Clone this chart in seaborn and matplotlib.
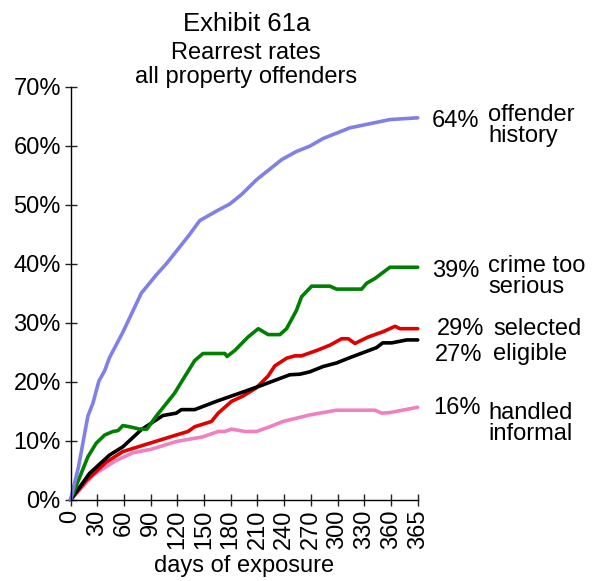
import pandas as pd
import matplotlib.pyplot as plt
import seaborn as sns

# tick labels on the x axis (evenly spaced, last one is 365)
day_labels = ['0', '30', '60', '90', '120', '150', '180', '210', '240',
              '270', '300', '330', '360', '365']

# curves: x in tick positions (0..13), y in percent
history_x = [0, 0.3, 0.65, 0.84, 1.06, 1.28, 1.46, 1.96, 2.65, 3.21, 3.59, 4.4,
             4.84, 5.46, 5.96, 6.4, 6.96, 7.9, 8.46, 8.96, 9.46, 10.46, 11.96, 13]
history_y = [0, 5.6, 14.2, 16.4, 20.1, 21.9, 24.1, 28.4, 35.0, 38.1, 40.0, 44.6,
             47.3, 48.9, 50.1, 51.7, 54.2, 57.6, 59.0, 59.9, 61.2, 63.0, 64.4, 64.7]

serious_x = [0, 0.65, 0.96, 1.28, 1.59, 1.78, 1.96, 2.21, 2.59, 2.86, 3.21, 3.9,
             4.21, 4.65, 4.96, 5.78, 5.86, 6.15, 6.65, 7.03, 7.4, 7.84, 8.09, 8.46,
             8.65, 9.03, 9.71, 9.96, 10.9, 11.09, 11.4, 11.96, 13]
serious_y = [0, 7.3, 9.6, 11.0, 11.6, 11.75, 12.6, 12.4, 12.0, 12.0, 14.2, 18.1,
             20.4, 23.6, 24.8, 24.8, 24.3, 25.3, 27.6, 29.0, 28.0, 28.0, 29.0, 32.1,
             34.4, 36.2, 36.2, 35.7, 35.7, 36.7, 37.5, 39.4, 39.4]

selected_x = [0, 0.59, 1.34, 1.96, 2.96, 3.96, 4.4, 4.65, 5.28, 5.53, 6.03, 6.46,
              6.96, 7.4, 7.65, 8.09, 8.4, 8.65, 9.21, 9.71, 10.15, 10.4, 10.65,
              11.15, 11.71, 12.15, 12.34, 13]
selected_y = [0, 3.3, 6.4, 8.2, 9.6, 11.0, 11.6, 12.4, 13.3, 14.7, 16.7, 17.6,
              19.0, 21.0, 22.7, 24.0, 24.4, 24.4, 25.3, 26.2, 27.3, 27.3, 26.5,
              27.6, 28.5, 29.4, 29.0, 29.0]

eligible_x = [0, 0.71, 1.46, 1.96, 2.65, 3.46, 3.96, 4.15, 4.65, 5.46, 6.53, 7.09,
              8.21, 8.59, 8.96, 9.46, 9.96, 10.46, 11.46, 11.69, 12.03, 12.59, 13]
eligible_y = [0, 4.5, 7.6, 9.0, 11.9, 14.3, 14.7, 15.3, 15.3, 16.7, 18.4, 19.3,
              21.2, 21.3, 21.7, 22.6, 23.2, 24.1, 25.8, 26.6, 26.6, 27.1, 27.1]

informal_x = [0, 0.84, 1.71, 2.34, 3.03, 3.96, 4.96, 5.53, 5.78, 6.03, 6.53, 6.96,
              7.46, 7.96, 8.96, 9.96, 11.4, 11.65, 11.96, 13]
informal_y = [0, 4.2, 6.7, 8.0, 8.6, 9.9, 10.7, 11.6, 11.6, 12.0, 11.6, 11.6,
              12.4, 13.3, 14.4, 15.2, 15.2, 14.7, 14.8, 15.7]

groups = ['handled informal', 'selected', 'eligible', 'crime too serious', 'offender history']
colors = ['#f080c0', '#e00000', '#000000', '#008000', '#8080e6']

frames = []
for name, xs, ys in [('handled informal', informal_x, informal_y),
                     ('selected', selected_x, selected_y),
                     ('eligible', eligible_x, eligible_y),
                     ('crime too serious', serious_x, serious_y),
                     ('offender history', history_x, history_y)]:
    frames.append(pd.DataFrame({'pos': xs, 'rate': ys, 'group': name}))
data = pd.concat(frames, ignore_index=True)

sns.set_style('ticks')
plt.rcParams['font.family'] = ['Liberation Sans', 'DejaVu Sans']
plt.rcParams['text.color'] = 'black'
plt.rcParams['xtick.color'] = 'black'
plt.rcParams['ytick.color'] = 'black'
plt.rcParams['axes.labelcolor'] = 'black'

fig = plt.figure(figsize=(6, 5.81), dpi=100)
W, H = 600, 581
ax = fig.add_axes([70.5 / W, 1 - 500 / H, (417.7 - 70.5) / W, (500 - 86.5) / H])

sns.lineplot(data=data, x='pos', y='rate', hue='group', hue_order=groups,
             palette=colors, estimator=None, sort=False, linewidth=2.6,
             legend=False, ax=ax, clip_on=False)

ax.set_xlim(0, 13)
ax.set_ylim(0, 70)
ax.set_xticks(range(len(day_labels)))
ax.set_xticklabels(day_labels, rotation=90, fontsize=17)
ax.set_yticks(range(0, 71, 10))
ax.set_yticklabels([f'{v}%' for v in range(0, 71, 10)], fontsize=17)
ax.tick_params(direction='inout', length=8, width=1, color='#222222', pad=3)
ax.set_xlabel('days of exposure', fontsize=17, labelpad=4)
ax.set_ylabel('')
for s in ['top', 'right']:
    ax.spines[s].set_visible(False)
for s in ['left', 'bottom']:
    ax.spines[s].set_linewidth(1)
    ax.spines[s].set_color('black')

def ftext(x, y, s, size=17, **kw):
    fig.text(x / W, 1 - y / H, s, fontsize=size, va='baseline', **kw)

# title block
ftext(247, 31, 'Exhibit 61a', size=18.5, ha='center')
ftext(246, 59, 'Rearrest rates', ha='center')
ftext(246, 83, 'all property offenders', ha='center')

# end labels (multi-line texts are placed by their last baseline)
ftext(432, 127, '64%')
ftext(488, 142, 'offender\nhistory', linespacing=0.95)
ftext(432, 277, '39%')
ftext(488, 293, 'crime too\nserious', linespacing=0.95)
ftext(437, 335, '29%')
ftext(493, 335, 'selected')
ftext(435, 361, '27%')
ftext(493, 360, 'eligible')
ftext(433, 414, '16%')
ftext(488, 440, 'handled\ninformal', linespacing=0.95)

fig.savefig('out.png', dpi=100)
